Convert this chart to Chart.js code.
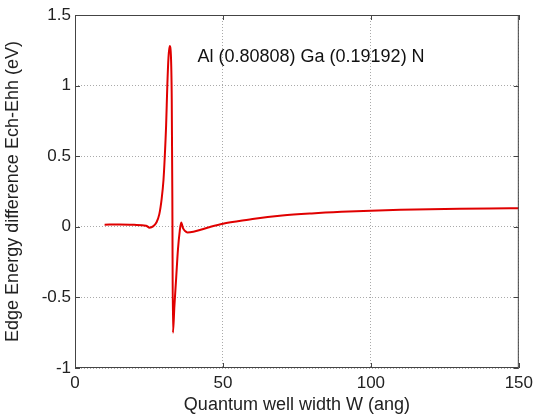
<!DOCTYPE html>
<html>
<head>
<meta charset="utf-8">
<script src="https://cdn.jsdelivr.net/npm/chart.js@4"></script>
<style>
  html, body { margin: 0; padding: 0; background: #fff; }
  #wrap { width: 538px; height: 416px; }
</style>
</head>
<body>
<div id="wrap"><canvas id="chart"></canvas></div>
<script>
// curve
const widths = [10, 15, 20, 24, 25.2, 26.5, 27.5, 28.5, 29.3, 29.9, 30.3, 30.8, 31.2, 31.6, 32.0, 32.4, 32.7, 32.9, 33.1,
  33.6, 34.2, 34.8, 35.4, 35.9, 36.5, 37.2, 38.0, 40, 45, 50, 55, 60, 70, 80, 90, 100, 110, 120, 130, 140, 150];
const energyDiff = [0.015, 0.016, 0.014, 0.008, -0.006, 0.005, 0.03, 0.09, 0.2, 0.33, 0.48, 0.72, 1.0, 1.2, 1.28, 1.22, 0.9, 0.2, -0.75,
  -0.56, -0.36, -0.16, -0.03, 0.03, -0.01, -0.03, -0.04, -0.035, -0.005, 0.022, 0.04, 0.056, 0.08, 0.095, 0.106, 0.114, 0.12, 0.125, 0.128, 0.13, 0.131];
const xTicks = [0, 50, 100, 150];
const yTicks = [-1, -0.5, 0, 0.5, 1, 1.5];
const label = 'Al (0.80808) Ga (0.19192) N';

const font = "'Liberation Sans', Arial, sans-serif";

const frame = {
  id: 'frame',
  afterDraw(chart) {
    const { ctx, chartArea: a, scales } = chart;
    ctx.save();
    ctx.strokeStyle = '#444';
    ctx.lineWidth = 1;
    ctx.strokeRect(a.left + 0.5, a.top + 0.5, a.right - a.left - 1, a.bottom - a.top - 1);
    // small inward ticks like matlab
    ctx.beginPath();
    xTicks.forEach(v => {
      const px = Math.round(scales.x.getPixelForValue(v)) + 0.5;
      ctx.moveTo(px, a.bottom); ctx.lineTo(px, a.bottom - 5);
      ctx.moveTo(px, a.top); ctx.lineTo(px, a.top + 5);
    });
    yTicks.forEach(v => {
      const py = Math.round(scales.y.getPixelForValue(v)) + 0.5;
      ctx.moveTo(a.left, py); ctx.lineTo(a.left + 5, py);
      ctx.moveTo(a.right, py); ctx.lineTo(a.right - 5, py);
    });
    ctx.stroke();
    // annotation
    ctx.fillStyle = '#111';
    ctx.font = '18px ' + font;
    ctx.textBaseline = 'middle';
    ctx.fillText(label, scales.x.getPixelForValue(41.4), scales.y.getPixelForValue(1.2));
    ctx.restore();
  }
};

new Chart(document.getElementById('chart'), {
  type: 'line',
  data: {
    datasets: [{
      data: widths.map((w, i) => ({ x: w, y: energyDiff[i] })),
      borderColor: '#e00000',
      borderWidth: 2,
      pointRadius: 0,
      cubicInterpolationMode: 'monotone',
      fill: false
    }]
  },
  options: {
    responsive: true,
    maintainAspectRatio: false,
    animation: false,
    layout: { padding: { left: 0, right: 17, top: 15, bottom: 0 } },
    plugins: { legend: { display: false }, tooltip: { enabled: false } },
    scales: {
      x: {
        type: 'linear', min: 0, max: 150,
        afterBuildTicks: s => { s.ticks = xTicks.map(v => ({ value: v })); },
        afterFit: s => { s.height = 48; },
        grid: { color: '#aaa', drawTicks: false },
        border: { display: false, dash: [1, 2] },
        ticks: { color: '#222', font: { family: font, size: 17 }, padding: 5, maxRotation: 0 },
        title: { display: true, text: 'Quantum well width W (ang)', color: '#222',
          font: { family: font, size: 18 }, padding: { top: 0, bottom: 0 } }
      },
      y: {
        min: -1, max: 1.5,
        afterBuildTicks: s => { s.ticks = yTicks.map(v => ({ value: v })); },
        afterFit: s => { s.width = 75; },
        grid: { color: '#aaa', drawTicks: false },
        border: { display: false, dash: [1, 2] },
        ticks: { color: '#222', font: { family: font, size: 17 }, padding: 4,
          callback: v => String(v) },
        title: { display: true, text: 'Edge Energy difference Ech-Ehh (eV)', color: '#222',
          font: { family: font, size: 18 }, padding: { top: 2, bottom: 0 } }
      }
    }
  },
  plugins: [frame]
});
</script>
</body>
</html>
